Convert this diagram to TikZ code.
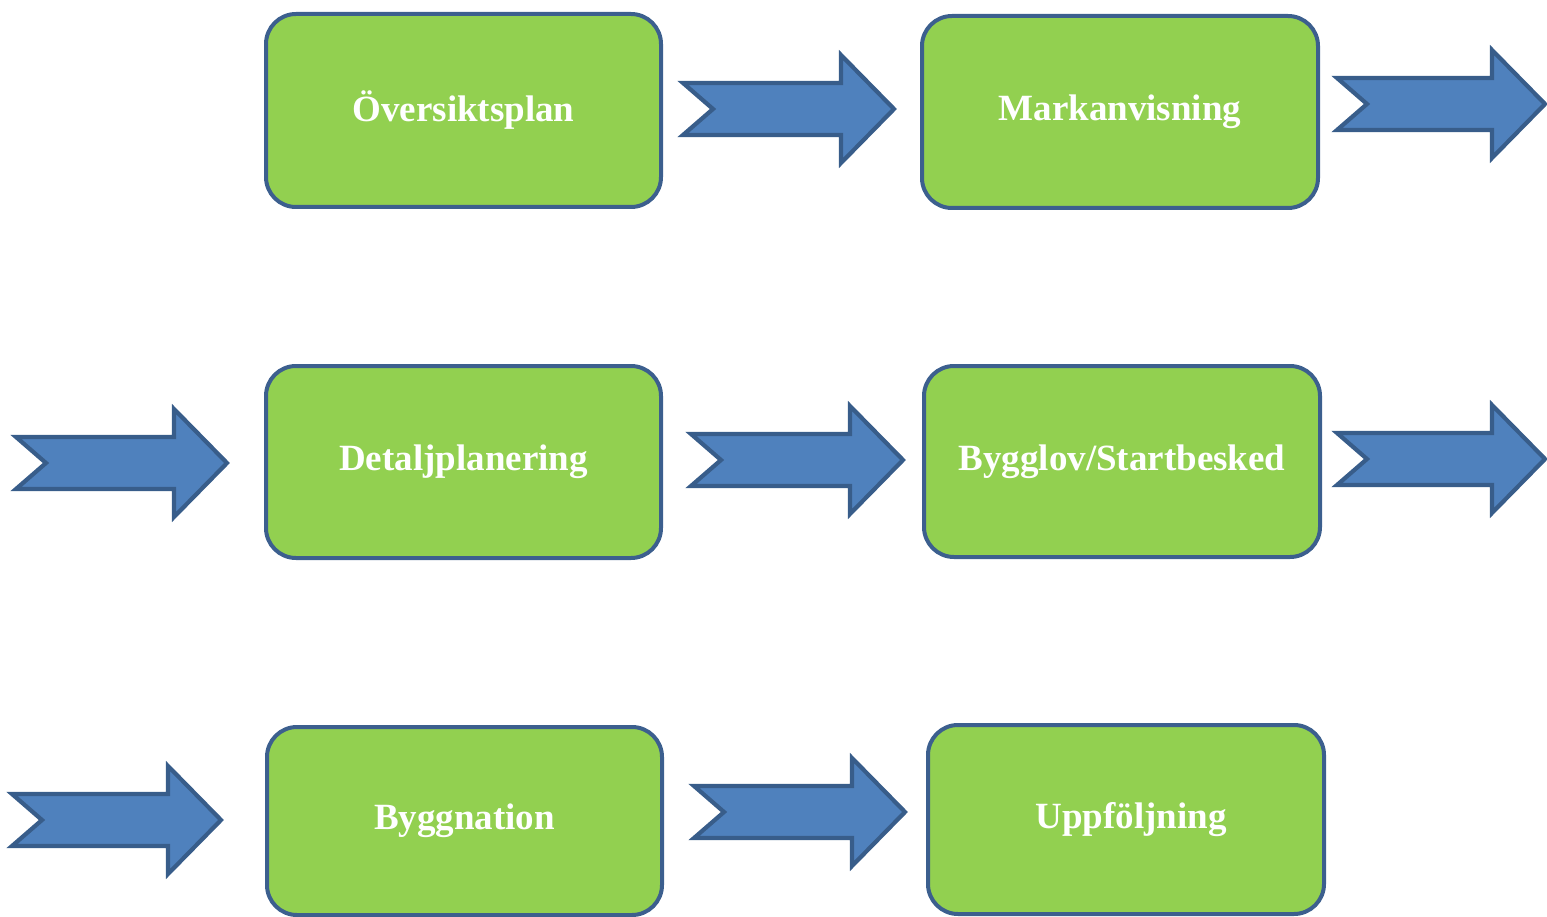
\documentclass[tikz,border=0pt]{standalone}
\usepackage{fontspec}
\setmainfont{Liberation Serif}
\definecolor{boxgreen}{HTML}{92D050}
\definecolor{boxline}{HTML}{3C5F8E}
\definecolor{arrfill}{HTML}{4F81BD}
\definecolor{arrline}{HTML}{385D8A}
\tikzset{
  stagebox/.style={draw=boxline, fill=boxgreen, line width=4pt, rounded corners=30pt,
    inner sep=0pt, text=white, font=\bfseries\fontsize{37}{40}\selectfont},
  blockarr/.style={draw=arrline, fill=arrfill, line width=4.2pt, line join=miter}
}
\newcommand\bigarrow[3]{%
  \draw[blockarr] (#1,#3-26) -- (#2-53,#3-26) -- (#2-53,#3-54) -- (#2,#3)
    -- (#2-53,#3+54) -- (#2-53,#3+26) -- (#1,#3+26) -- (#1+30,#3) -- cycle;}
\begin{document}
\begin{tikzpicture}[x=1pt,y=-1pt]
\useasboundingbox (0,0) rectangle (1547,917);
\node[stagebox, minimum width=395pt, minimum height=193pt] (b1) at (463.5,110.5) {\raisebox{3pt}{Översiktsplan}};
\node[stagebox, minimum width=396pt, minimum height=192pt] (b2) at (1120,112) {\raisebox{3pt}{Markanvisning}};
\node[stagebox, minimum width=395pt, minimum height=192pt] (b3) at (463.5,462) {\raisebox{3pt}{Detaljplanering}};
\node[stagebox, minimum width=396pt, minimum height=191pt] (b4) at (1122,461.5) {Bygglov/Startbesked};
\node[stagebox, minimum width=395pt, minimum height=188pt] (b5) at (464.5,821) {Byggnation};
\node[stagebox, minimum width=396pt, minimum height=189pt] (b6) at (1126,819.5) {\hspace*{10pt}\raisebox{3pt}{Uppföljning}};
\bigarrow{683}{894}{109}
\bigarrow{1337}{1545}{104}
\bigarrow{16}{227}{463}
\bigarrow{691}{903}{460}
\bigarrow{1337}{1545}{459}
\bigarrow{12}{221}{820}
\bigarrow{694}{905}{812}
\end{tikzpicture}
\end{document}
